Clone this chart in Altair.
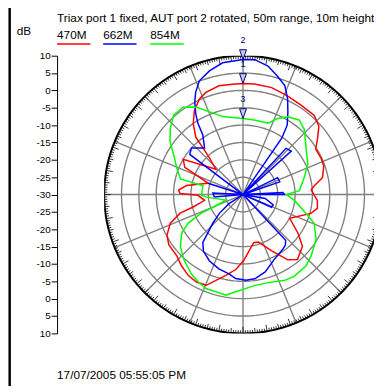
import altair as alt
import pandas as pd

FONT = "Liberation Sans"
TITLE = "Triax port 1 fixed, AUT port 2 rotated, 50m range, 10m height"
DATE = "17/07/2005 05:55:05 PM"
UNIT = "dB"
series_names = ["470M", "662M", "854M"]
series_colors = ["#ff0000", "#0000ff", "#00ff00"]
marker_labels = ["1", "2", "3"]

# angles in degrees clockwise from top, values in dB
ang_470 = [0, 6, 15, 24, 33, 42, 48, 53, 58, 65, 70.5, 78, 83, 86, 90.5, 94.5, 100.5, 105.5, 117, 125,
           131, 140, 145.5, 153, 162, 167.5, 174.5, 179.5, 185.5, 192, 197.5, 202, 208, 214, 221, 227,
           236, 242, 248.5, 253.5, 256, 261.5, 269, 271, 274, 279, 288, 295, 300.5, 313, 317.5, 319.3,
           320.5, 325, 330, 335.5, 340, 347.5, 354.5]
db_470 = [2.0, 2.0, 1.9, 1.2, 0.7, 0.7, -0.6, -3.1, -5.3, -5.2, -5.3, -6.6, -9.3, -10.3, -9.5, -8.5, -8.2,
          -9.7, -14.9, -10.7, -7.3, -5.6, -7.2, -11.8, -15.6, -15.8, -13.4, -10.9, -8.3, -6.2, -4.1, -1.8,
          -1.45, -1.85, -2.9, -4.0, -4.2, -5.2, -7.5, -11.1, -15.2, -18.8, -17, -11.9, -11.4, -13.5, -19.5,
          -11.5, -10, -19.3, -15.6, -12.3, -8.6, -5, -2, 0.25, 1.3, 2.1, 1.95]

ang_662 = [0, 5, 11, 16, 21, 25, 28.5, 32.5, 34.5, 38, 43, 48, 51, 64, 71, 76, 87, 90, 93, 100,
           109, 114, 119, 130, 137, 140, 144, 154, 164, 172, 178, 185, 190, 198, 207, 215, 220, 222.5,
           226.5, 231.5, 237, 242, 262, 265, 273, 278, 285, 288, 292, 307, 312, 320.5, 326, 327.7,
           329.7, 332.4, 335.2, 339, 344.8, 351.2]
db_662 = [8.9, 9.0, 7.7, 5.6, 3.6, 0.4, -2.9, -6.3, -10.3, -30, -11.8, -11.3, -30, -18.9, -18.8, -30,
          -18.5, -18, -30, -23.5, -20.8, -21, -30, -30, -12, -11, -10.5, -9.3, -6.8, -5.5, -5.3, -5.7,
          -6.8, -7.5, -8.6, -10.1, -12, -15, -18, -21.3, -25.2, -30, -30, -21.7, -21.3, -30, -30, -19.4,
          -30, -10.8, -10, -12.6, -9.3, -5.7, -3, 0, 2.5, 5.1, 6.9, 8.4]

ang_854 = [0, 9.5, 19.5, 24, 30, 37, 43.5, 53.5, 65, 74.5, 86, 90, 96.5, 106.5, 112, 121.5, 132, 138.5,
           148, 154, 164, 172.5, 178.5, 184.5, 189.5, 201.5, 207, 213, 222.5, 230.5, 238, 242.5, 246,
           247, 252, 266, 269, 282.5, 284, 292, 300, 306, 312.5, 319, 325.5, 332, 338, 345.5]
db_854 = [-8.1, -8.3, -8.2, -6.1, -4.1, -3.1, -4.3, -7.4, -9.4, -11.7, -13.7, -17.5, -15.1, -11.1, -7.9,
          -5.3, -3.6, -2.6, -2.2, -2.5, -3.6, -3.6, -2.9, -1.9, -0.6, -0.9, -1.7, -2.7, -4.7, -6.6, -9.2,
          -12.2, -16.8, -21, -24.8, -19.4, -18, -18.2, -11.4, -9.4, -6.9, -4, -1.6, 0.4, 0.5, -1.45,
          -4.3, -6.8]

db_min, db_max, db_step = -30, 10, 5
grid_db = [-25, -20, -15, -10, -5, 0, 5]
radial_angles = [i * 22.5 for i in range(16)]
ring_deg = list(range(360))

# ---- geometry ----
R = db_max - db_min            # outer radius in dB units
PX = 141.5 / R                 # pixels per dB unit
W, H = 275, 283
XMIN = -R
XMAX = XMIN + W / PX

xs = alt.Scale(domain=[XMIN, XMAX], nice=False, zero=False)
ys = alt.Scale(domain=[-R, R], nice=False, zero=False)
yaxis = alt.Axis(values=list(range(-R, R + 1, db_step)), labelExpr=f"abs(datum.value) + ({db_min})",
                 offset=48, tickSize=6, labelPadding=1, domainColor="black", tickColor="black",
                 labelColor="black", labelFont=FONT, labelFontSize=10, title=None, grid=False,
                 labelFlush=False, labelOverlap=False, domainWidth=1, tickWidth=1)


def X(f):
    return alt.X(f, type="quantitative", scale=xs, axis=None)


def Y(f):
    return alt.Y(f, type="quantitative", scale=ys, axis=yaxis)


# series data
rows = []
for name, angs, dbs in zip(series_names, [ang_470, ang_662, ang_854], [db_470, db_662, db_854]):
    for i, (a, d) in enumerate(zip(angs + [angs[0] + 360], dbs + [dbs[0]])):
        rows.append({"series": name, "idx": i, "ang": a, "db": d})
df = pd.DataFrame(rows)

# grid circles
grows = []
for g in grid_db:
    for a in range(0, 361, 2):
        grows.append({"ring": g, "ang": a})
gdf = pd.DataFrame(grows)
odf = pd.DataFrame({"ang": list(range(0, 361, 1)), "ring": db_max})

grid = alt.Chart(gdf).transform_calculate(
    r=f"datum.ring - ({db_min})"
).transform_calculate(
    x="datum.r * sin(datum.ang * PI / 180)", y="datum.r * cos(datum.ang * PI / 180)"
).mark_line(color="#808080", strokeWidth=1.4, clip=True).encode(
    x=X("x"), y=Y("y"), detail="ring:N", order="ang:Q")

radials = alt.Chart(pd.DataFrame({"ang": radial_angles})).transform_calculate(
    x0="0", y0="0",
    x1=f"{R} * sin(datum.ang * PI / 180)", y1=f"{R} * cos(datum.ang * PI / 180)"
).mark_rule(color="#808080", strokeWidth=1.4, clip=True).encode(
    x=X("x0"), y=Y("y0"), x2="x1:Q", y2="y1:Q")

outer = alt.Chart(odf).transform_calculate(
    r=f"datum.ring - ({db_min})"
).transform_calculate(
    x="datum.r * sin(datum.ang * PI / 180)", y="datum.r * cos(datum.ang * PI / 180)"
).mark_line(color="black", strokeWidth=2, clip=True).encode(
    x=X("x"), y=Y("y"), order="ang:Q")

ticks = alt.Chart(pd.DataFrame({"ang": ring_deg})).transform_calculate(
    L="datum.ang % 10 == 0 ? 1.9 : (datum.ang % 5 == 0 ? 1.4 : 0.9)"
).transform_calculate(
    x0=f"{R} * sin(datum.ang * PI / 180)", y0=f"{R} * cos(datum.ang * PI / 180)",
    x1=f"({R} - datum.L) * sin(datum.ang * PI / 180)", y1=f"({R} - datum.L) * cos(datum.ang * PI / 180)"
).mark_rule(color="#000000", strokeWidth=0.8, clip=True).encode(
    x=X("x0"), y=Y("y0"), x2="x1:Q", y2="y1:Q")

lines = alt.Chart(df).transform_calculate(
    r=f"max(datum.db - ({db_min}), 0)"
).transform_calculate(
    x="datum.r * sin(datum.ang * PI / 180)", y="datum.r * cos(datum.ang * PI / 180)"
).mark_line(strokeWidth=1.5, clip=True).encode(
    x=X("x"), y=Y("y"),
    color=alt.Color("series:N", scale=alt.Scale(domain=series_names, range=series_colors), legend=None),
    order="idx:Q")

mk = pd.DataFrame({"series": series_names, "label": marker_labels,
                   "db": [db_470[0], db_662[0], db_854[0]]})
markers = alt.Chart(mk).transform_calculate(
    x="0", y=f"max(datum.db - ({db_min}), 0)"
).mark_point(shape="M-0.7,-1L0.7,-1L0,1Z", size=100, filled=True, fill="#c8c8e0", stroke="#000080",
             strokeWidth=1, opacity=1, yOffset=-5).encode(x=X("x"), y=Y("y"))
mlabels = alt.Chart(mk).transform_calculate(
    x="0", y=f"max(datum.db - ({db_min}), 0)"
).mark_text(fontSize=9, font=FONT, color="#000080", baseline="middle", yOffset=-20).encode(
    x=X("x"), y=Y("y"), text="label:N")


def txt(s, x, y, size=12, color="black"):
    return alt.Chart(pd.DataFrame({"t": [s]})).mark_text(
        align="left", baseline="alphabetic", fontSize=size, font=FONT, color=color
    ).encode(text="t:N", x=alt.value(x), y=alt.value(y))


texts = [txt(TITLE, -48, -34), txt(UNIT, -89, -21), txt(DATE, -48, 329)]
leg_x = [-48, -1, 47]
legend_layers = []
for name, col, lx in zip(series_names, series_colors, leg_x):
    legend_layers.append(txt(name, lx, -17))
    legend_layers.append(alt.Chart(pd.DataFrame({"s": [name]})).mark_rule(color=col, strokeWidth=1.5).encode(
        x=alt.value(lx), x2=alt.value(lx + 34), y=alt.value(-12)))

frame = alt.Chart(pd.DataFrame({"s": [0]})).mark_rule(color="black", strokeWidth=2.5).encode(
    x=alt.value(-96.3), y=alt.value(-70), y2=alt.value(420))

chart = alt.layer(grid, radials, outer, ticks, lines, markers, mlabels, frame, *texts, *legend_layers).properties(
    width=W, height=H,
    padding={"left": 98, "top": 45, "right": 0, "bottom": 50},
    autosize=alt.AutoSizeParams(type="none"),
).configure_view(stroke="transparent")

chart.save("out.html", embed_options={"renderer": "svg", "actions": False})
